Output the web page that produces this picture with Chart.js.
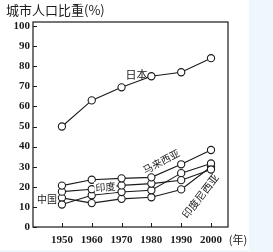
<!DOCTYPE html>
<html><head><meta charset="utf-8">
<script src="https://cdn.jsdelivr.net/npm/chart.js@4"></script>
<style>
html,body{margin:0;padding:0;background:#eef8fc;}
#wrap{position:absolute;left:0;top:0;width:273px;height:252px;}
#bg{position:absolute;left:0;top:0;width:249px;height:250px;background:#fff;}
canvas{position:absolute;left:0;top:0;}
</style></head>
<body>
<div id="wrap"><div id="bg"></div><canvas id="c" width="273" height="252"></canvas></div>
<script>
const years = [1950, 1960, 1970, 1980, 1990, 2000];
const yTicks = [0, 10, 20, 30, 40, 50, 60, 70, 80, 90, 100];
const japan     = [50, 63, 69.5, 75, 77, 84];
const malaysia  = [20.6, 23.5, 24.2, 24.7, 31.2, 38.3];
const india     = [17.6, 18.8, 20.7, 21.6, 23.3, 28.6];
const china     = [11.2, 15.8, 17.4, 18.3, 26.8, 31.6];
const indonesia = [14.5, 11.9, 14.0, 14.8, 18.7, 30.0];
const titleText = '城市人口比重(%)';
const xUnit = '(年)';
const seriesLabels = [
  {text:'日本', x:1975.0, y:75.8, rot:0, size:11, bg:false},
  {text:'马来西亚', x:1983.3, y:32.6, rot:-28, size:10, bg:false},
  {text:'印度', x:1964.6, y:19.9, rot:-5, size:10, bg:true},
  {text:'中国', x:1945.0, y:13.9, rot:0, size:10, bg:false},
  {text:'印度尼西亚', x:1996.4, y:15.4, rot:-52, size:10.5, bg:false}
];

const pts = arr => years.map((yr, i) => ({x: yr, y: arr[i]}));
const ds = arr => ({
  data: pts(arr), borderColor:'#1a1a1a', borderWidth:1.1, tension:0,
  pointRadius:3.6, pointBackgroundColor:'#fff', pointBorderColor:'#1a1a1a', pointBorderWidth:1.1
});
const CJK = '"Noto Sans CJK SC", sans-serif';

const deco = {
  id:'deco',
  afterDraw(chart){
    const {ctx, chartArea:a, scales:{x, y}} = chart;
    ctx.save();
    ctx.strokeStyle = '#1a1a1a'; ctx.lineWidth = 1.2;
    ctx.strokeRect(a.left, a.top, a.right - a.left, a.bottom - a.top);
    ctx.lineWidth = 1;
    yTicks.forEach(v => { const py = Math.round(y.getPixelForValue(v)) + 0.5;
      ctx.beginPath(); ctx.moveTo(a.left, py); ctx.lineTo(a.left + 4, py); ctx.stroke(); });
    years.forEach(v => { const px = Math.round(x.getPixelForValue(v)) + 0.5;
      ctx.beginPath(); ctx.moveTo(px, a.bottom); ctx.lineTo(px, a.bottom - 4); ctx.stroke(); });
    ctx.fillStyle = '#1a1a1a';
    ctx.textBaseline = 'middle';
    seriesLabels.forEach(l => {
      const px = x.getPixelForValue(l.x), py = y.getPixelForValue(l.y);
      ctx.save(); ctx.translate(px, py); ctx.rotate(l.rot * Math.PI / 180);
      ctx.font = l.size + 'px ' + CJK; ctx.textAlign = 'center';
      if (l.bg) { const w = ctx.measureText(l.text).width; ctx.fillStyle = '#fff';
        ctx.fillRect(-w/2 - 1, -l.size/2 - 1, w + 2, l.size + 2); ctx.fillStyle = '#1a1a1a'; }
      ctx.fillText(l.text, 0, 0); ctx.restore();
    });
    ctx.font = '13px ' + CJK; ctx.textAlign = 'left';
    ctx.fillText(titleText, 6, 10);
    ctx.font = '11px ' + CJK; ctx.textAlign = 'center';
    ctx.fillText(xUnit, a.right + 10, a.bottom + 13);
    ctx.restore();
  }
};

new Chart(document.getElementById('c'), {
  type:'line',
  data:{ datasets:[ds(japan), ds(malaysia), ds(india), ds(china), ds(indonesia)] },
  options:{
    responsive:false, animation:false,
    layout:{ padding:{left:0, top:22, right:45, bottom:0} },
    plugins:{ legend:{display:false}, tooltip:{enabled:false} },
    scales:{
      x:{ type:'linear', min:1940.3, max:2005.7,
        afterBuildTicks: s => { s.ticks = years.map(v => ({value:v})); },
        afterFit: s => { s.height = 25; },
        grid:{display:false, drawTicks:false}, border:{display:false},
        ticks:{ padding:7, color:'#1a1a1a', font:{family:'"Liberation Serif", serif', size:11, weight:'bold'},
          callback: v => String(v) } },
      y:{ min:0, max:102,
        afterBuildTicks: s => { s.ticks = yTicks.map(v => ({value:v})); },
        afterFit: s => { s.width = 33; },
        grid:{display:false, drawTicks:false}, border:{display:false},
        ticks:{ padding:3, color:'#1a1a1a', font:{family:'"Liberation Serif", serif', size:11, weight:'bold'} } }
    }
  },
  plugins:[deco]
});
</script>
</body></html>
